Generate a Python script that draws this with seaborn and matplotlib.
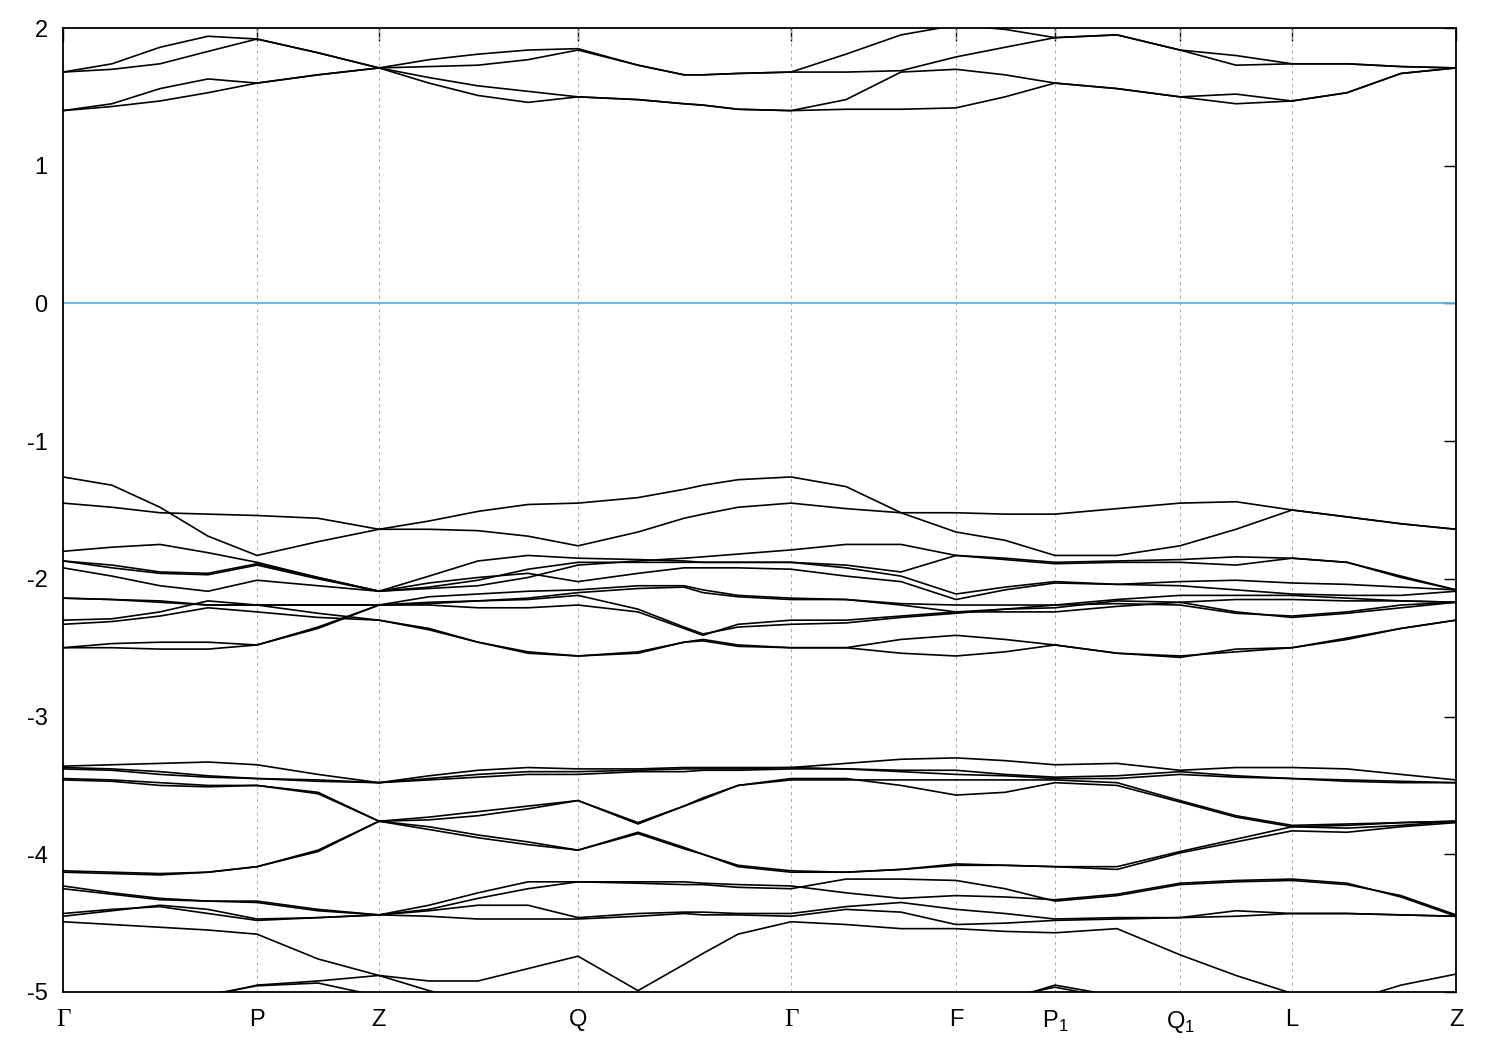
import numpy as np
import pandas as pd
import matplotlib
matplotlib.use("Agg")
import matplotlib.pyplot as plt
import seaborn as sns

# k-path distance of each sample point (arbitrary units along the path)
kpath = [0.00, 0.49, 0.97, 1.45, 1.94, 2.55, 3.16, 3.66, 4.15, 4.65, 5.15, 5.75, 6.21, 6.40,
         6.75, 7.28, 7.83, 8.38, 8.93, 9.42, 9.92, 10.54, 11.17, 11.73, 12.29, 12.84, 13.38, 13.93]
sym_pos = [0.00, 1.94, 3.16, 5.15, 7.28, 8.93, 9.92, 11.17, 12.29, 13.93]
sym_labels = ['Γ', 'P', 'Z', 'Q', 'Γ', 'F', 'P$_{\\mathregular{1}}$', 'Q$_{\\mathregular{1}}$', 'L', 'Z']
y_ticks = [-5, -4, -3, -2, -1, 0, 1, 2]
nan = np.nan

# conduction bands (eV)
cb1 = [1.40, 1.43, 1.47, 1.53, 1.60, 1.66, 1.71, 1.60, 1.51, 1.46, 1.50, 1.48, 1.45, 1.44, 1.41, 1.40, 1.41, 1.41, 1.42, 1.50, 1.60, 1.56, 1.50, 1.45, 1.47, 1.53, 1.67, 1.71]
cb2 = [1.40, 1.45, 1.56, 1.63, 1.60, 1.66, 1.71, 1.64, 1.58, 1.54, 1.50, 1.48, 1.45, 1.44, 1.41, 1.40, 1.48, 1.68, 1.70, 1.66, 1.60, 1.56, 1.50, 1.52, 1.47, 1.53, 1.67, 1.71]
cb3 = [1.68, 1.70, 1.74, 1.83, 1.92, 1.82, 1.71, 1.72, 1.73, 1.77, 1.84, 1.73, 1.66, 1.66, 1.67, 1.68, 1.68, 1.69, 1.79, 1.86, 1.93, 1.95, 1.84, 1.73, 1.74, 1.74, 1.72, 1.71]
cb4 = [1.68, 1.74, 1.86, 1.94, 1.92, 1.82, 1.71, 1.77, 1.81, 1.84, 1.85, 1.73, 1.66, 1.66, 1.67, 1.68, 1.81, 1.95, 2.02, 1.99, 1.93, 1.95, 1.84, 1.80, 1.74, 1.74, 1.72, 1.71]

# upper valence manifold (eV)
va = [-1.26, -1.32, -1.48, -1.69, -1.83, -1.73, -1.64, -1.58, -1.51, -1.46, -1.45, -1.41, -1.35, -1.32, -1.28, -1.26, -1.33, -1.52, -1.66, -1.72, -1.83, -1.83, -1.76, -1.64, -1.50, -1.55, -1.60, -1.64]
vb = [-1.45, -1.48, -1.52, -1.53, -1.54, -1.56, -1.64, -1.64, -1.65, -1.69, -1.76, -1.66, -1.56, -1.53, -1.48, -1.45, -1.49, -1.52, -1.52, -1.53, -1.53, -1.49, -1.45, -1.44, -1.50, -1.55, -1.60, -1.64]
vc = [-1.80, -1.77, -1.75, -1.81, -1.88, -1.99, -2.09, -1.98, -1.87, -1.83, -1.85, -1.86, -1.87, -1.88, -1.88, -1.88, -1.90, -1.95, -1.83, -1.86, -1.89, -1.88, -1.88, -1.90, -1.85, -1.88, -1.99, -2.08]
vd = [-1.87, -1.92, -1.96, -1.97, -1.90, -2.00, -2.09, -2.06, -2.01, -1.93, -1.88, -1.88, -1.88, -1.88, -1.88, -1.88, -1.92, -1.98, -2.11, -2.06, -2.02, -2.04, -2.05, -2.08, -2.11, -2.12, -2.12, -2.09]
ve = [-1.87, -1.90, -1.95, -1.96, -1.89, -1.99, -2.09, -2.07, -2.05, -1.99, -1.90, -1.87, -1.85, -1.84, -1.82, -1.79, -1.75, -1.75, -1.83, -1.85, -1.88, -1.87, -1.86, -1.84, -1.85, -1.88, -1.98, -2.08]
vf = [-1.92, -1.98, -2.05, -2.09, -2.01, -2.05, -2.09, -2.03, -1.99, -1.96, -2.02, -1.96, -1.92, -1.92, -1.92, -1.93, -1.98, -2.02, -2.15, -2.08, -2.03, -2.04, -2.02, -2.01, -2.03, -2.04, -2.06, -2.08]
vg = [-2.14, -2.15, -2.16, -2.19, -2.19, -2.19, -2.19, -2.13, -2.11, -2.09, -2.08, -2.05, -2.05, -2.08, -2.12, -2.14, -2.15, -2.18, -2.19, -2.19, -2.19, -2.15, -2.12, -2.12, -2.12, -2.14, -2.16, -2.17]
vh = [-2.14, -2.15, -2.17, -2.19, -2.19, -2.19, -2.19, -2.17, -2.16, -2.14, -2.10, -2.07, -2.06, -2.10, -2.13, -2.15, -2.15, -2.19, -2.24, -2.22, -2.21, -2.16, -2.17, -2.24, -2.28, -2.25, -2.21, -2.17]
vi = [-2.30, -2.29, -2.24, -2.16, -2.19, -2.25, -2.30, -2.36, -2.46, -2.53, -2.56, -2.53, -2.46, -2.44, -2.48, -2.50, -2.50, -2.44, -2.41, -2.44, -2.48, -2.54, -2.56, -2.53, -2.50, -2.44, -2.36, -2.30]
vj = [-2.33, -2.31, -2.27, -2.21, -2.24, -2.28, -2.30, -2.37, -2.46, -2.54, -2.56, -2.54, -2.46, -2.45, -2.49, -2.50, -2.50, -2.54, -2.56, -2.53, -2.48, -2.54, -2.57, -2.51, -2.50, -2.43, -2.36, -2.30]
vk = [-2.50, -2.47, -2.46, -2.46, -2.48, -2.35, -2.19, -2.18, -2.16, -2.15, -2.12, -2.22, -2.35, -2.40, -2.35, -2.33, -2.32, -2.28, -2.25, -2.22, -2.19, -2.18, -2.19, -2.25, -2.27, -2.24, -2.19, -2.17]
vl = [-2.50, -2.50, -2.51, -2.51, -2.48, -2.36, -2.19, -2.19, -2.21, -2.21, -2.19, -2.24, -2.36, -2.41, -2.33, -2.30, -2.30, -2.27, -2.24, -2.24, -2.24, -2.20, -2.17, -2.15, -2.15, -2.16, -2.16, -2.17]

# lower valence manifold (eV)
wm1 = [-3.36, -3.35, -3.34, -3.33, -3.35, -3.42, -3.48, -3.43, -3.39, -3.37, -3.38, -3.38, -3.37, -3.37, -3.37, -3.37, -3.34, -3.31, -3.30, -3.32, -3.35, -3.34, -3.39, -3.37, -3.37, -3.38, -3.42, -3.46]
wm2 = [-3.37, -3.38, -3.40, -3.43, -3.45, -3.46, -3.48, -3.45, -3.42, -3.40, -3.40, -3.39, -3.38, -3.38, -3.38, -3.37, -3.38, -3.39, -3.39, -3.42, -3.44, -3.43, -3.40, -3.43, -3.45, -3.46, -3.47, -3.48]
wm3 = [-3.38, -3.39, -3.42, -3.44, -3.45, -3.47, -3.48, -3.46, -3.44, -3.42, -3.42, -3.40, -3.40, -3.39, -3.39, -3.38, -3.38, -3.40, -3.42, -3.43, -3.45, -3.45, -3.42, -3.44, -3.45, -3.47, -3.48, -3.48]
wn1 = [-3.45, -3.46, -3.48, -3.50, -3.50, -3.55, -3.76, -3.73, -3.69, -3.65, -3.61, -3.77, -3.65, -3.60, -3.50, -3.45, -3.45, -3.50, -3.57, -3.55, -3.48, -3.50, -3.62, -3.73, -3.80, -3.79, -3.77, -3.76]
wn2 = [-3.46, -3.47, -3.50, -3.51, -3.50, -3.56, -3.76, -3.75, -3.72, -3.67, -3.61, -3.78, -3.65, -3.59, -3.50, -3.46, -3.46, -3.46, -3.46, -3.46, -3.46, -3.48, -3.61, -3.72, -3.79, -3.78, -3.77, -3.76]
wo1 = [-4.12, -4.13, -4.14, -4.13, -4.09, -3.97, -3.76, -3.82, -3.88, -3.93, -3.97, -3.84, -3.95, -4.00, -4.08, -4.12, -4.13, -4.11, -4.07, -4.08, -4.09, -4.09, -3.98, -3.89, -3.80, -3.81, -3.79, -3.76]
wo2 = [-4.13, -4.14, -4.15, -4.13, -4.09, -3.98, -3.76, -3.80, -3.86, -3.91, -3.97, -3.85, -3.96, -4.00, -4.09, -4.13, -4.13, -4.11, -4.08, -4.08, -4.09, -4.11, -3.99, -3.91, -3.83, -3.84, -3.80, -3.77]
wp1 = [-4.23, -4.28, -4.32, -4.34, -4.34, -4.40, -4.44, -4.37, -4.28, -4.20, -4.20, -4.20, -4.20, -4.21, -4.22, -4.23, -4.28, -4.32, -4.30, -4.31, -4.33, -4.29, -4.21, -4.19, -4.18, -4.21, -4.31, -4.45]
wp2 = [-4.25, -4.29, -4.33, -4.34, -4.35, -4.41, -4.44, -4.40, -4.32, -4.25, -4.20, -4.21, -4.22, -4.22, -4.24, -4.25, -4.18, -4.18, -4.19, -4.25, -4.34, -4.30, -4.22, -4.20, -4.19, -4.22, -4.30, -4.44]
wq1 = [-4.43, -4.40, -4.38, -4.43, -4.48, -4.46, -4.44, -4.41, -4.37, -4.37, -4.46, -4.43, -4.42, -4.42, -4.43, -4.43, -4.38, -4.35, -4.40, -4.43, -4.47, -4.46, -4.46, -4.41, -4.43, -4.43, -4.44, -4.45]
wq2 = [-4.45, -4.41, -4.37, -4.40, -4.47, -4.46, -4.44, -4.45, -4.47, -4.47, -4.47, -4.45, -4.43, -4.44, -4.44, -4.45, -4.40, -4.42, -4.51, -4.50, -4.48, -4.47, -4.46, -4.45, -4.43, -4.43, -4.44, -4.45]
wr = [-4.49, -4.51, -4.53, -4.55, -4.58, -4.76, -4.88, -4.92, -4.92, -4.83, -4.74, -4.99, -4.80, -4.72, -4.58, -4.49, -4.51, -4.54, -4.54, -4.56, -4.57, -4.54, -4.73, -4.88, -5.01, -5.07, -4.95, -4.87]

# bands that only just enter the window from below
ws1 = [nan, nan, nan, -5.03, -4.95, -4.92, -4.88, -4.99, -5.08, nan, nan, nan, nan, nan, nan, nan, nan, nan, nan, nan, nan, nan, nan, nan, nan, nan, nan, nan]
ws2 = [nan, nan, nan, -5.02, -4.955, -4.935, -5.03, nan, nan, nan, nan, nan, nan, nan, nan, nan, nan, nan, nan, nan, nan, nan, nan, nan, nan, nan, nan, nan]
ws3 = [nan, nan, nan, nan, nan, nan, nan, nan, nan, nan, nan, nan, nan, nan, nan, nan, nan, nan, nan, -5.06, -4.95, -5.03, nan, nan, nan, nan, nan, nan]
ws4 = [nan, nan, nan, nan, nan, nan, nan, nan, nan, nan, nan, nan, nan, nan, nan, nan, nan, nan, nan, -5.04, -4.965, -5.05, nan, nan, nan, nan, nan, nan]

band_list = [("cb1", cb1), ("cb2", cb2), ("cb3", cb3), ("cb4", cb4),
             ("va", va), ("vb", vb), ("vc", vc), ("vd", vd), ("ve", ve), ("vf", vf),
             ("vg", vg), ("vh", vh), ("vi", vi), ("vj", vj), ("vk", vk), ("vl", vl),
             ("wm1", wm1), ("wm2", wm2), ("wm3", wm3), ("wn1", wn1), ("wn2", wn2),
             ("wo1", wo1), ("wo2", wo2), ("wp1", wp1), ("wp2", wp2), ("wq1", wq1),
             ("wq2", wq2), ("wr", wr), ("ws1", ws1), ("ws2", ws2), ("ws3", ws3), ("ws4", ws4)]

rows = []
for name, vals in band_list:
    for k, e in zip(kpath, vals):
        if not np.isnan(e):
            rows.append((name, k, e))
df = pd.DataFrame(rows, columns=["band", "k", "E"])

sns.set_theme(style="white")
plt.rcParams["font.family"] = ["Liberation Sans", "DejaVu Sans"]
plt.rcParams["axes.unicode_minus"] = False
plt.rcParams["mathtext.fontset"] = "custom"
plt.rcParams["mathtext.rm"] = "Liberation Sans"

fig = plt.figure(figsize=(15, 10.5), dpi=100)
ax = fig.add_axes([63 / 1500, 1 - 992 / 1050, (1456 - 63) / 1500, (992 - 28) / 1050])

for x in sym_pos[1:-1]:
    ax.axvline(x, color="#a8a8a8", lw=0.7, ls=(0, (3, 4)), zorder=1)
ax.axhline(0, color="#56B4E9", lw=1.3, zorder=2)

sns.lineplot(data=df, x="k", y="E", units="band", estimator=None, sort=False,
             color="black", lw=1.2, ax=ax, legend=False, zorder=3)

ax.set_xlim(sym_pos[0], sym_pos[-1])
ax.set_ylim(-5, 2)
ax.set_xticks(sym_pos)
ax.set_xticklabels(sym_labels)
ax.set_yticks(y_ticks)
ax.set_yticklabels([str(v) for v in y_ticks])
ax.set_xlabel("")
ax.set_ylabel("")
ax.tick_params(direction="in", length=9, width=1.0, top=True, right=True,
               labelsize=17, colors="black")
ax.tick_params(axis="x", pad=12)
ax.tick_params(axis="y", pad=11)
for s in ax.spines.values():
    s.set_visible(True)
    s.set_color("black")
    s.set_linewidth(1.3)
for lab in ax.get_xticklabels():
    if lab.get_text() == "Γ":
        lab.set_fontfamily(["Liberation Serif", "DejaVu Serif"])
        lab.set_fontsize(18)

fig.savefig("out.png", dpi=100, facecolor="white")
